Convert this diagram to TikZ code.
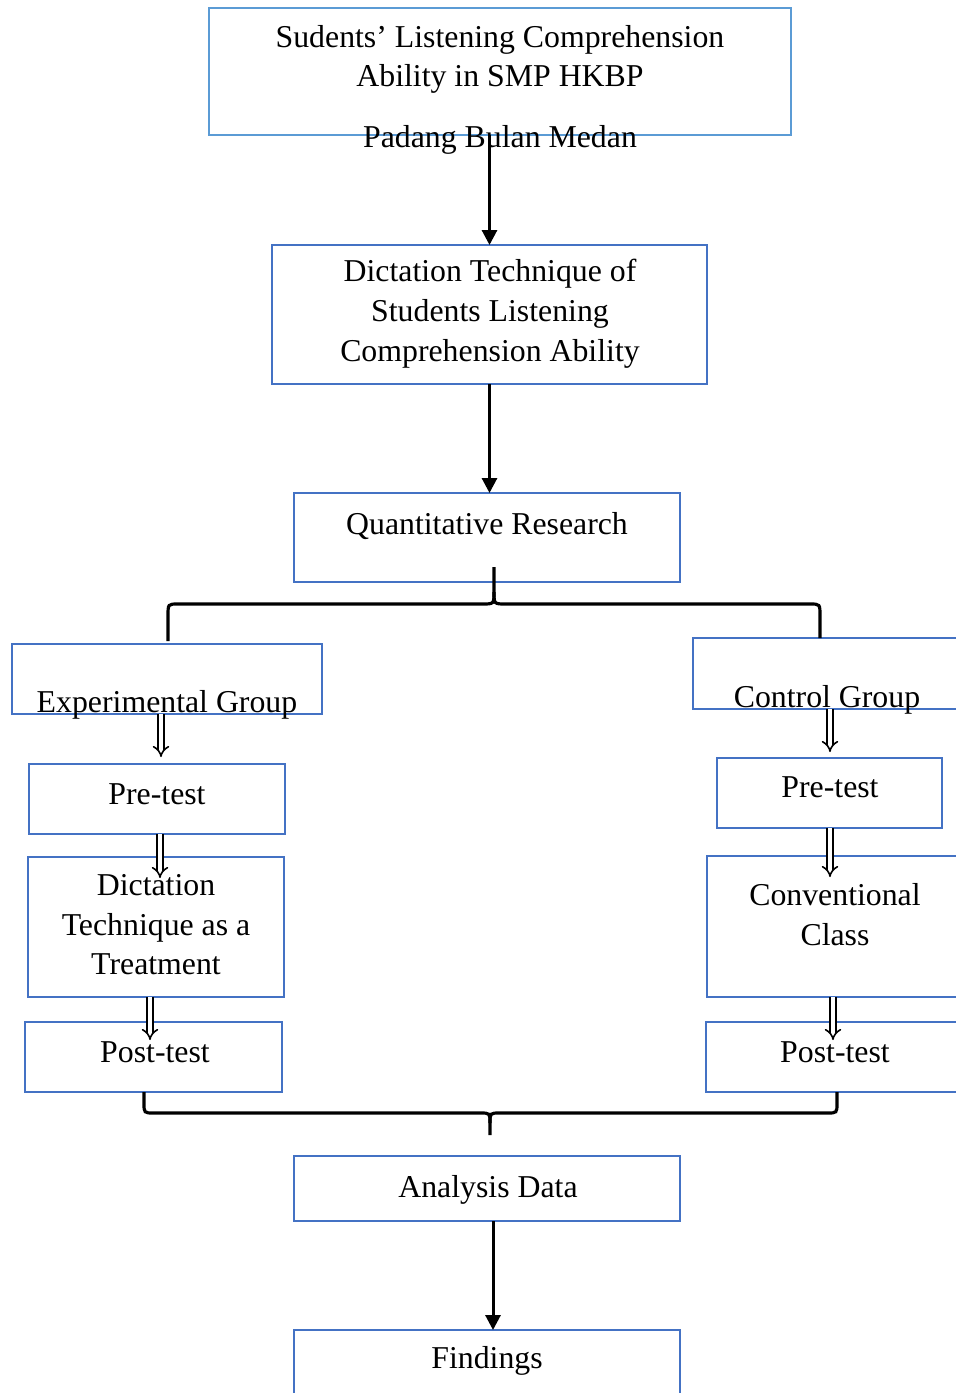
\documentclass[tikz,border=0pt]{standalone}
\usepackage{fontspec}
\setmainfont{Liberation Serif}
\usetikzlibrary{arrows.meta}
\definecolor{boxblue}{RGB}{68,114,196}
\definecolor{lightblue}{RGB}{91,155,213}
\begin{document}
\begin{tikzpicture}[x=1pt,y=-1pt,
  box/.style={draw=boxblue, line width=2.4pt, inner sep=0pt, outer sep=0pt, rectangle},
  txt/.style={font=\fontsize{31.8}{40}\selectfont, anchor=base, inner sep=0pt},
  arr/.style={line width=3pt, -{Triangle[length=15pt,width=15pt]}},
  hol/.style={double, double distance=4pt, line width=1.6pt, -{Implies[length=9pt,width=16pt]}},
  bracepath/.style={line width=3.2pt}]
\useasboundingbox (0,0) rectangle (956,1393);
% boxes
\node[box, draw=lightblue, minimum width=582pt, minimum height=127pt] (top) at (500,71.5) {};
\node[box, minimum width=435pt, minimum height=139pt] (dict) at (489.5,314.5) {};
\node[box, minimum width=386pt, minimum height=89pt] (qr) at (487,537.5) {};
\node[box, minimum width=310pt, minimum height=70pt] (exp) at (167,679) {};
\node[box, minimum width=307pt, minimum height=71pt] (ctrl) at (846.5,673.5) {};
\node[box, minimum width=256pt, minimum height=70pt] (preL) at (157,799) {};
\node[box, minimum width=256pt, minimum height=140pt] (dtt) at (156,927) {};
\node[box, minimum width=257pt, minimum height=70pt] (postL) at (153.5,1057) {};
\node[box, minimum width=225pt, minimum height=70pt] (preR) at (829.5,793) {};
\node[box, minimum width=293pt, minimum height=141pt] (conv) at (853.5,926.5) {};
\node[box, minimum width=294pt, minimum height=70pt] (postR) at (853,1057) {};
\node[box, minimum width=386pt, minimum height=65pt] (anal) at (487,1188.5) {};
\node[box, minimum width=386pt, minimum height=100pt] (find) at (487,1380) {};
% texts
\node[txt] (t1a) at (500,47) {Sudents’ Listening Comprehension};
\node[txt] (t1b) at (500,86) {Ability in SMP HKBP};
\node[txt] (t1c) at (500,147) {Padang Bulan Medan};
\node[txt] (t2a) at (490,281) {Dictation Technique of};
\node[txt] (t2b) at (490,321) {Students Listening};
\node[txt] (t2c) at (490,361) {Comprehension Ability};
\node[txt] (t3) at (487,534) {Quantitative Research};
\node[txt] (t4) at (167,712) {Experimental Group};
\node[txt] (t5) at (827,707) {Control Group};
\node[txt] (t6) at (157,804) {Pre-test};
\node[txt] (t7a) at (156,895) {Dictation};
\node[txt] (t7b) at (156,935) {Technique as a};
\node[txt] (t7c) at (156,974) {Treatment};
\node[txt] (t8) at (155,1062) {Post-test};
\node[txt] (t9) at (830,797) {Pre-test};
\node[txt] (t10a) at (835,905) {Conventional};
\node[txt] (t10b) at (835,945) {Class};
\node[txt] (t11) at (835,1062) {Post-test};
\node[txt] (t12) at (488,1197) {Analysis Data};
\node[txt] (t13) at (487,1368) {Findings};
% main arrows
\draw[arr] (dict.north |- top.south) -- (dict.north);
\draw[arr] (dict.south) -- (dict.south |- qr.north);
\draw[arr] ([xshift=6pt]anal.south) -- ([xshift=6pt]find.north);
% upper brace
\draw[bracepath] ([xshift=7pt,yshift=15pt]qr.south) -- (494,592)
  .. controls (494,604) .. (482,604) -- (178,604)
  .. controls (168,604) .. (168,616) -- (168,641);
\draw[bracepath] (494,592) .. controls (494,604) .. (506,604) -- (810,604)
  .. controls (820,604) .. (820,616) -- (820,638);
% lower brace
\draw[bracepath] ([xshift=-9.5pt]postL.south) -- (144,1103)
  .. controls (144,1113) .. (154,1113) -- (480,1113)
  .. controls (490,1113) .. (490,1123) -- (490,1135);
\draw[bracepath] (490,1123) .. controls (490,1113) .. (500,1113) -- (827,1113)
  .. controls (837,1113) .. (837,1103) -- (837,1092);
% hollow arrows
\draw[hol] ([xshift=-6pt]exp.south) -- ([xshift=4pt,yshift=7pt]preL.north);
\draw[hol] ([xshift=3pt]preL.south) -- ([xshift=4pt,yshift=-21pt]dtt.north);
\draw[hol] ([xshift=-6pt]dtt.south) -- ([xshift=-3.5pt,yshift=-18pt]postL.north);
\draw[hol] ([xshift=-16.5pt]ctrl.south) -- ([xshift=0.5pt,yshift=6pt]preR.north);
\draw[hol] ([xshift=0.5pt]preR.south) -- ([xshift=-23.5pt,yshift=-21pt]conv.north);
\draw[hol] ([xshift=-20.5pt]conv.south) -- ([xshift=-20pt,yshift=-18pt]postR.north);
\end{tikzpicture}
\end{document}
